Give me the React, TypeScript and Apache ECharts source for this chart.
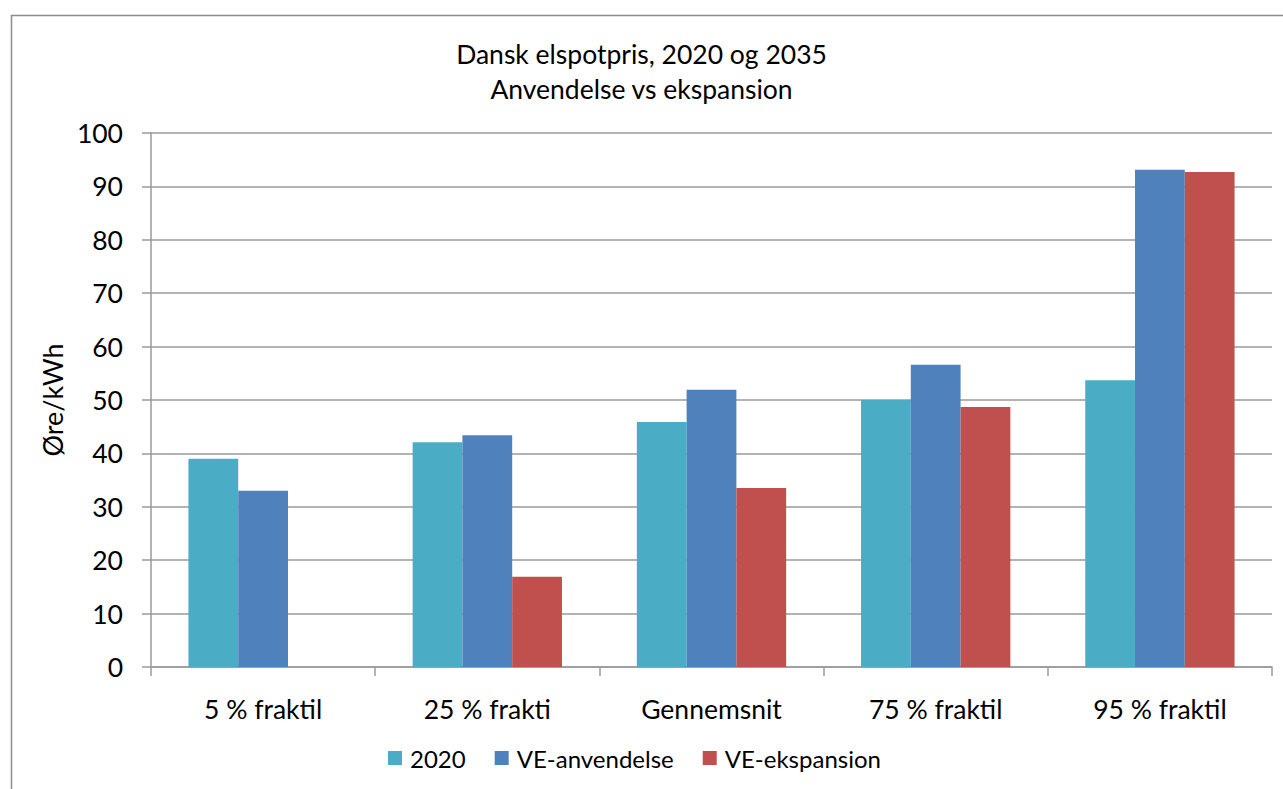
import React, { useEffect, useRef } from "react";
import * as echarts from "echarts";

const categories = ["5 % fraktil", "25 % frakti", "Gennemsnit", "75 % fraktil", "95 % fraktil"];
const seriesNames = ["2020", "VE-anvendelse", "VE-ekspansion"];
const values2020 = [39, 42.1, 45.9, 50, 53.7];
const valuesAnvendelse = [33, 43.4, 51.9, 56.6, 93.1];
const valuesEkspansion = [0, 16.9, 33.5, 48.7, 92.7];
const colors = ["#4BACC6", "#4F81BD", "#C0504D"];
const titleLines = ["Dansk elspotpris, 2020 og 2035", "Anvendelse vs ekspansion"];
const yAxisName = "Øre/kWh";

const FONT = "Lato, 'Open Sans', sans-serif";

export default function App() {
  const ref = useRef<HTMLDivElement>(null);
  useEffect(() => {
    document.body.style.margin = "0";
    if (!ref.current) return;
    const chart = echarts.init(ref.current, null, { renderer: "svg" });
    const data = [values2020, valuesAnvendelse, valuesEkspansion];
    chart.setOption({
      animation: false,
      backgroundColor: "#ffffff",
      textStyle: { fontFamily: FONT },
      graphic: [
        {
          type: "rect",
          shape: { x: 11.5, y: 15.5, width: 1300, height: 800 },
          style: { fill: "none", stroke: "#8c8c8c", lineWidth: 1.5 },
          silent: true,
        },
      ],
      title: {
        text: titleLines.join("\n"),
        left: "center",
        top: 31,
        textStyle: {
          fontFamily: FONT,
          fontSize: 26.5,
          fontWeight: "normal",
          color: "#000",
          lineHeight: 35,
        },
      },
      legend: {
        top: 741,
        left: 383,
        icon: "rect",
        itemWidth: 14,
        itemHeight: 14,
        itemGap: 29,
        textStyle: { fontFamily: FONT, fontSize: 24, color: "#000", padding: [0, 0, 0, 3] },
        data: seriesNames,
      },
      grid: { left: 151, right: 11, top: 133, bottom: 122, containLabel: false },
      xAxis: {
        type: "category",
        data: categories,
        axisLine: { lineStyle: { color: "#9a9a9a", width: 1.5 } },
        axisTick: { show: true, length: 9, lineStyle: { color: "#9a9a9a", width: 1.5 } },
        axisLabel: { fontFamily: FONT, fontSize: 26.5, color: "#000", margin: 28 },
      },
      yAxis: {
        type: "value",
        min: 0,
        max: 100,
        interval: 10,
        name: yAxisName,
        nameLocation: "middle",
        nameGap: 79,
        nameRotate: 90,
        nameTextStyle: { fontFamily: FONT, fontSize: 27, color: "#000" },
        axisLine: { show: true, lineStyle: { color: "#9a9a9a", width: 1.5 } },
        axisTick: { show: true, length: 9, lineStyle: { color: "#9a9a9a", width: 1.5 } },
        axisLabel: { fontFamily: FONT, fontSize: 26.5, color: "#000", margin: 28 },
        splitLine: { lineStyle: { color: "#9a9a9a", width: 1.5 } },
      },
      series: seriesNames.map((name, i) => ({
        name,
        type: "bar",
        data: data[i],
        barGap: "0%",
        barCategoryGap: "33.4%",
        itemStyle: { color: colors[i] },
      })),
    });
    return () => chart.dispose();
  }, []);
  return <div ref={ref} style={{ width: 1283, height: 789 }} />;
}
